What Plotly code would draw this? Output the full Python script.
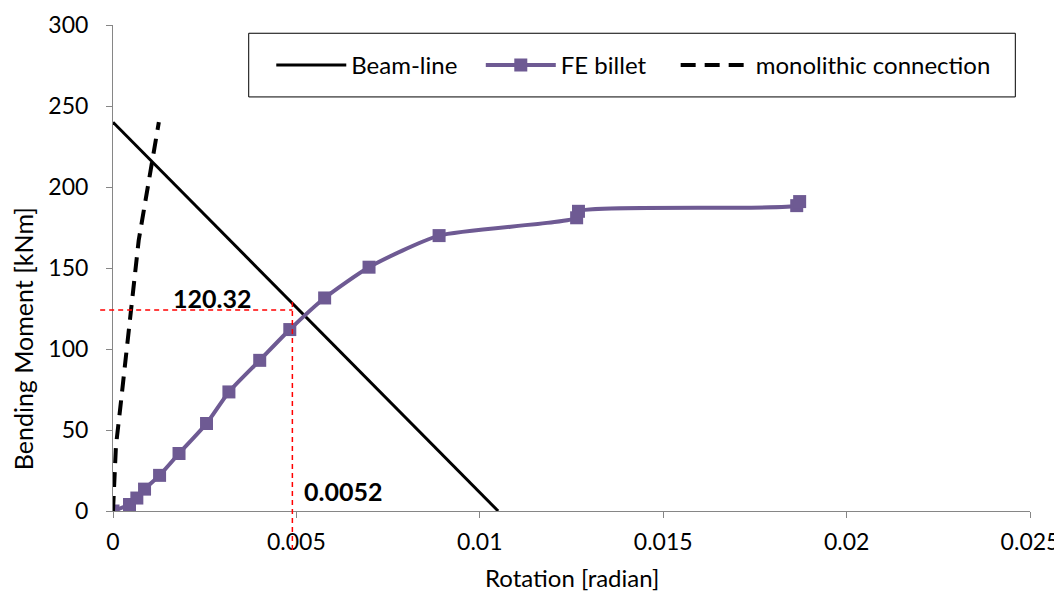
import plotly.graph_objects as go

# ---- data ----
beam_x = [0.0, 0.0105]
beam_y = [240, 0]

fe_x = [0.0, 0.00045, 0.00065, 0.00086, 0.00127, 0.0018, 0.00255, 0.00316, 0.0040,
        0.00482, 0.00577, 0.00698, 0.00889, 0.01264, 0.01269, 0.01864, 0.01872]
fe_y = [0, 4, 8, 13.5, 22, 35.5, 54, 73.5, 93, 112, 131.5, 150.5, 170, 181, 185, 188.5, 191]

mono_x = [0.0, 0.00008, 0.0002, 0.0007, 0.00125]
mono_y = [0, 40, 64, 167, 240]

cross_x = 0.00489
cross_y = 124
label_moment = "120.32"
label_rot = "0.0052"

xticks = [0, 0.005, 0.01, 0.015, 0.02, 0.025]
xticklabels = ["0", "0.005", "0.01", "0.015", "0.02", "0.025"]
yticks = [0, 50, 100, 150, 200, 250, 300]

FONT = "Lato"
PURPLE = "#6E5A93"
AX = "#868686"
NB = "\u00a0"

fig = go.Figure()
fig.add_trace(go.Scatter(x=beam_x, y=beam_y, mode="lines", name="Beam-line" + NB * 3,
                         line=dict(color="black", width=3)))
fig.add_trace(go.Scatter(x=fe_x, y=fe_y, mode="lines+markers", name="FE billet" + NB * 4,
                         line=dict(color=PURPLE, width=4, shape="spline", smoothing=0.6),
                         marker=dict(symbol="square", size=13, color=PURPLE)))
fig.add_trace(go.Scatter(x=mono_x, y=mono_y, mode="lines", name="monolithic connection",
                         line=dict(color="black", width=4, dash="15px,9px")))

# red dashed guide lines
fig.add_shape(type="line", xref="paper", yref="y", x0=-0.014, x1=cross_x / 0.025,
              y0=cross_y, y1=cross_y, line=dict(color="red", width=1.5, dash="5px,4px"))
fig.add_shape(type="line", xref="x", yref="paper", x0=cross_x, x1=cross_x,
              y0=-0.08, y1=0.438, line=dict(color="red", width=1.5, dash="5px,4px"))

# legend box
fig.add_shape(type="rect", xref="paper", yref="paper", x0=0.148, x1=0.984,
              y0=0.852, y1=0.983, line=dict(color="black", width=1), fillcolor="white",
              layer="below")

fig.add_annotation(x=0.00269, y=131.4, text="<b>%s</b>" % label_moment, showarrow=False,
                   font=dict(family=FONT, size=25, color="black"))
fig.add_annotation(x=0.00626, y=12.5, text="<b>%s</b>" % label_rot, showarrow=False,
                   font=dict(family=FONT, size=25, color="black"))

# axis titles
fig.add_annotation(xref="paper", yref="paper", x=0.5, y=-0.137, text="Rotation [radian]",
                   showarrow=False, xanchor="center", yanchor="middle",
                   font=dict(family=FONT, size=24, color="black"))
fig.add_annotation(xref="paper", yref="paper", x=-0.0981, y=0.3535, text="Bending Moment [kNm]",
                   showarrow=False, xanchor="center", yanchor="middle", textangle=-90,
                   font=dict(family=FONT, size=25, color="black"))

fig.update_layout(
    width=1054, height=583,
    margin=dict(l=105, r=32, t=17, b=80),
    plot_bgcolor="white", paper_bgcolor="white",
    font=dict(family=FONT, size=23, color="black"),
    showlegend=True,
    legend=dict(orientation="h", x=0.1726, y=0.917, xanchor="left", yanchor="middle",
                bgcolor="rgba(0,0,0,0)", itemwidth=70, font=dict(size=24),
                tracegroupgap=0),
    xaxis=dict(range=[0, 0.025], tickvals=xticks, ticktext=xticklabels, automargin=False,
               showgrid=False, zeroline=False, showline=True, linecolor=AX, linewidth=1,
               ticks="outside", ticklen=6, tickcolor=AX, ticklabelstandoff=4),
    yaxis=dict(range=[0, 300], tickvals=yticks, automargin=False,
               showgrid=False, zeroline=False, showline=True, linecolor=AX, linewidth=1,
               ticks="outside", ticklen=6, tickcolor=AX, ticklabelstandoff=13),
)

fig.write_html("out.html")
